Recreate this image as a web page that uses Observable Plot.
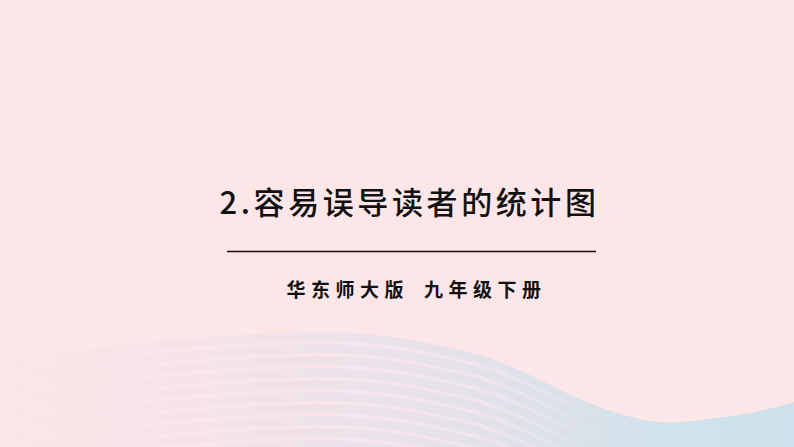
<!DOCTYPE html>
<html><head><meta charset="utf-8">
<script src="https://cdn.jsdelivr.net/npm/d3@7"></script>
<script src="https://cdn.jsdelivr.net/npm/@observablehq/plot@0.6"></script>
<style>
html,body{margin:0;padding:0;background:#fde6e8;}
#chart svg{display:block;}
text[aria-label="title"]{letter-spacing:3.6px;}
text[aria-label="subtitle"]{letter-spacing:5.5px;}
</style>
</head><body><div id="chart"></div>
<script>
const titleText = ["2.容易误导读者的统计图"];
const subtitleText = ["华东师大版\u2002九年级下册"];
const waveX = [0, 100, 200, 317, 400, 450, 500, 567, 617, 660, 700, 750, 794];
const waveY = [362, 348, 338, 332, 338, 348, 362, 393, 413, 422, 420, 413, 402];
const stripeOffsets = [10, 22, 34, 46, 58, 70, 82, 94, 106];

const wave = waveX.map((x, i) => ({x, y: waveY[i]}));
const stripes = stripeOffsets.flatMap((o, k) =>
  wave.filter(d => d.x <= 620).map(d => ({x: d.x, y: d.y + o, k})));

const W = 794, H = 447;
const defs = () => {
  const g = d3.create("svg:defs");
  const lg = g.append("linearGradient").attr("id", "waveGrad")
    .attr("gradientUnits", "userSpaceOnUse").attr("x1", 0).attr("x2", W).attr("y1", 0).attr("y2", 0);
  [[0, "#fce5e8"], [0.25, "#f5e3e9"], [0.45, "#ece2ea"], [0.65, "#dfe1ea"], [0.82, "#d2e2eb"], [1, "#cde2ec"]]
    .forEach(([o, c]) => lg.append("stop").attr("offset", o).attr("stop-color", c));
  const sg = g.append("linearGradient").attr("id", "stripeGrad")
    .attr("gradientUnits", "userSpaceOnUse").attr("x1", 0).attr("x2", 620).attr("y1", 0).attr("y2", 0);
  [[0, 0.15], [0.3, 0.45], [0.6, 0.6], [0.8, 0.45], [1, 0]]
    .forEach(([o, a]) => sg.append("stop").attr("offset", o).attr("stop-color", "#ffe9ec").attr("stop-opacity", a));
  return g.node();
};

const chart = Plot.plot({
  width: W, height: H,
  margin: 0,
  x: {type: "identity", axis: null},
  y: {type: "identity", axis: null},
  style: {background: "#fde6e8", fontFamily: "'Noto Sans CJK SC', sans-serif"},
  marks: [
    defs,
    Plot.areaY(wave, {x: "x", y1: H, y2: "y", curve: "natural", fill: "url(#waveGrad)"}),
    Plot.line(stripes, {x: "x", y: "y", z: "k", curve: "natural", stroke: "url(#stripeGrad)", strokeWidth: 3.5}),
    Plot.text(titleText, {x: 409, y: 204, text: d => d, fontSize: 31, fontWeight: 500, fill: "#111", ariaLabel: () => "title"}),
    Plot.ruleY([251], {x1: 227, x2: 596, stroke: "#111", strokeWidth: 1.6}),
    Plot.text(subtitleText, {x: 416, y: 290, text: d => d, fontSize: 19, fontWeight: "bold", fill: "#111", ariaLabel: () => "subtitle"})
  ]
});
document.getElementById("chart").appendChild(chart);
</script>
</body></html>
